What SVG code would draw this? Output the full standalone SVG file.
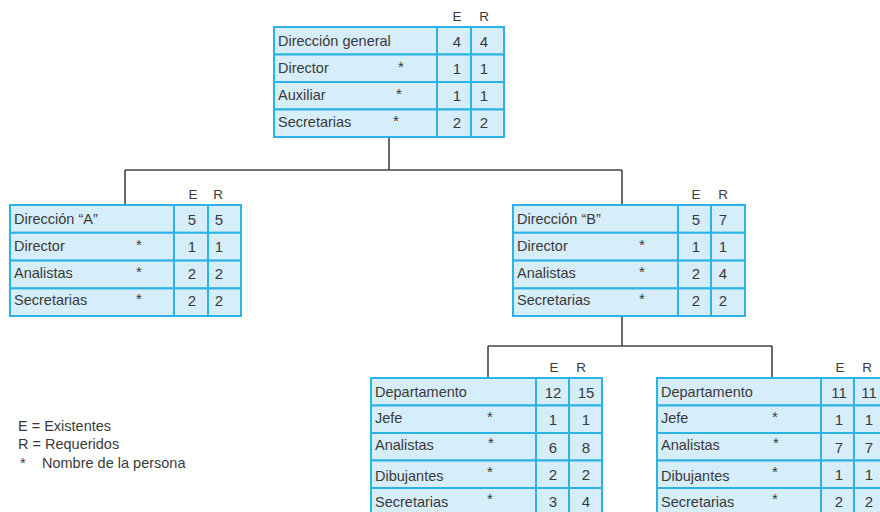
<svg xmlns="http://www.w3.org/2000/svg" width="880" height="512" viewBox="0 0 880 512">
  <style>
    .cell { fill: #d6edfa; stroke: #2ab3e4; stroke-width: 2; }
    .t { font-family: "Liberation Sans", Arial, sans-serif; font-size: 14.5px; fill: #3a3a3a; }
    .n { text-anchor: middle; font-size: 15px; }
    .h { font-family: "Liberation Sans", Arial, sans-serif; font-size: 13.5px; fill: #3a3a3a; text-anchor: middle; }
    .link { fill: none; stroke: #444; stroke-width: 1.6; }
  </style>
  <rect width="880" height="512" fill="#fff"/>

  <!-- connectors -->
  <g id="connectors">
    <path class="link" d="M389 137 V170 M125 170 H622 M125 170 V205 M622 170 V205"/>
    <path class="link" d="M622 316 V346 M488 346 H772 M488 346 V378 M772 346 V378"/>
  </g>

  <!-- Dirección general -->
  <g id="direccion-general">
    <text class="h" x="457" y="21">E</text>
    <text class="h" x="484" y="21">R</text>
    <rect class="cell" x="274" y="27" width="163" height="27.5"/>
    <rect class="cell" x="437" y="27" width="34" height="27.5"/>
    <rect class="cell" x="471" y="27" width="33" height="27.5"/>
    <rect class="cell" x="274" y="54.5" width="163" height="27.5"/>
    <rect class="cell" x="437" y="54.5" width="34" height="27.5"/>
    <rect class="cell" x="471" y="54.5" width="33" height="27.5"/>
    <rect class="cell" x="274" y="82" width="163" height="27.5"/>
    <rect class="cell" x="437" y="82" width="34" height="27.5"/>
    <rect class="cell" x="471" y="82" width="33" height="27.5"/>
    <rect class="cell" x="274" y="109.5" width="163" height="27.5"/>
    <rect class="cell" x="437" y="109.5" width="34" height="27.5"/>
    <rect class="cell" x="471" y="109.5" width="33" height="27.5"/>
    <text class="t" x="278" y="46">Dirección general</text>
    <text class="t" x="278" y="73">Director</text>
    <text class="t" x="278" y="100">Auxiliar</text>
    <text class="t" x="278" y="127">Secretarias</text>
    <text class="t n" x="401" y="72">*</text>
    <text class="t n" x="399" y="99">*</text>
    <text class="t n" x="396" y="126">*</text>
    <text class="t n" x="457" y="47">4</text><text class="t n" x="484" y="47">4</text>
    <text class="t n" x="457" y="74">1</text><text class="t n" x="484" y="74">1</text>
    <text class="t n" x="457" y="101">1</text><text class="t n" x="484" y="101">1</text>
    <text class="t n" x="457" y="128">2</text><text class="t n" x="484" y="128">2</text>
  </g>

  <!-- Dirección A -->
  <g id="direccion-a">
    <text class="h" x="193" y="199">E</text>
    <text class="h" x="218" y="199">R</text>
    <rect class="cell" x="10" y="205" width="164" height="27.8"/>
    <rect class="cell" x="174" y="205" width="34" height="27.8"/>
    <rect class="cell" x="208" y="205" width="33" height="27.8"/>
    <rect class="cell" x="10" y="232.8" width="164" height="27.8"/>
    <rect class="cell" x="174" y="232.8" width="34" height="27.8"/>
    <rect class="cell" x="208" y="232.8" width="33" height="27.8"/>
    <rect class="cell" x="10" y="260.6" width="164" height="27.8"/>
    <rect class="cell" x="174" y="260.6" width="34" height="27.8"/>
    <rect class="cell" x="208" y="260.6" width="33" height="27.8"/>
    <rect class="cell" x="10" y="288.4" width="164" height="27.6"/>
    <rect class="cell" x="174" y="288.4" width="34" height="27.6"/>
    <rect class="cell" x="208" y="288.4" width="33" height="27.6"/>
    <text class="t" x="14" y="224">Dirección “A”</text>
    <text class="t" x="14" y="251">Director</text>
    <text class="t" x="14" y="278">Analistas</text>
    <text class="t" x="14" y="305">Secretarias</text>
    <text class="t n" x="139" y="250">*</text>
    <text class="t n" x="139" y="277">*</text>
    <text class="t n" x="139" y="304">*</text>
    <text class="t n" x="192" y="225">5</text><text class="t n" x="219" y="225">5</text>
    <text class="t n" x="192" y="252">1</text><text class="t n" x="219" y="252">1</text>
    <text class="t n" x="192" y="279">2</text><text class="t n" x="219" y="279">2</text>
    <text class="t n" x="192" y="306">2</text><text class="t n" x="219" y="306">2</text>
  </g>

  <!-- Dirección B -->
  <g id="direccion-b">
    <text class="h" x="696" y="199">E</text>
    <text class="h" x="723" y="199">R</text>
    <rect class="cell" x="513" y="205" width="165" height="27.8"/>
    <rect class="cell" x="678" y="205" width="33" height="27.8"/>
    <rect class="cell" x="711" y="205" width="34" height="27.8"/>
    <rect class="cell" x="513" y="232.8" width="165" height="27.8"/>
    <rect class="cell" x="678" y="232.8" width="33" height="27.8"/>
    <rect class="cell" x="711" y="232.8" width="34" height="27.8"/>
    <rect class="cell" x="513" y="260.6" width="165" height="27.8"/>
    <rect class="cell" x="678" y="260.6" width="33" height="27.8"/>
    <rect class="cell" x="711" y="260.6" width="34" height="27.8"/>
    <rect class="cell" x="513" y="288.4" width="165" height="27.6"/>
    <rect class="cell" x="678" y="288.4" width="33" height="27.6"/>
    <rect class="cell" x="711" y="288.4" width="34" height="27.6"/>
    <text class="t" x="517" y="224">Dirección “B”</text>
    <text class="t" x="517" y="251">Director</text>
    <text class="t" x="517" y="278">Analistas</text>
    <text class="t" x="517" y="305">Secretarias</text>
    <text class="t n" x="642" y="250">*</text>
    <text class="t n" x="642" y="277">*</text>
    <text class="t n" x="642" y="304">*</text>
    <text class="t n" x="696" y="225">5</text><text class="t n" x="723" y="225">7</text>
    <text class="t n" x="696" y="252">1</text><text class="t n" x="723" y="252">1</text>
    <text class="t n" x="696" y="279">2</text><text class="t n" x="723" y="279">4</text>
    <text class="t n" x="696" y="306">2</text><text class="t n" x="723" y="306">2</text>
  </g>

  <!-- Departamento 1 -->
  <g id="departamento-1">
    <text class="h" x="554" y="372">E</text>
    <text class="h" x="581" y="372">R</text>
    <rect class="cell" x="371" y="378" width="165" height="27.5"/>
    <rect class="cell" x="536" y="378" width="33" height="27.5"/>
    <rect class="cell" x="569" y="378" width="33" height="27.5"/>
    <rect class="cell" x="371" y="405.5" width="165" height="27.5"/>
    <rect class="cell" x="536" y="405.5" width="33" height="27.5"/>
    <rect class="cell" x="569" y="405.5" width="33" height="27.5"/>
    <rect class="cell" x="371" y="433" width="165" height="27.5"/>
    <rect class="cell" x="536" y="433" width="33" height="27.5"/>
    <rect class="cell" x="569" y="433" width="33" height="27.5"/>
    <rect class="cell" x="371" y="460.5" width="165" height="27.5"/>
    <rect class="cell" x="536" y="460.5" width="33" height="27.5"/>
    <rect class="cell" x="569" y="460.5" width="33" height="27.5"/>
    <rect class="cell" x="371" y="488" width="165" height="28"/>
    <rect class="cell" x="536" y="488" width="33" height="28"/>
    <rect class="cell" x="569" y="488" width="33" height="28"/>
    <text class="t" x="375" y="397">Departamento</text>
    <text class="t" x="375" y="423">Jefe</text>
    <text class="t" x="375" y="450">Analistas</text>
    <text class="t" x="375" y="481">Dibujantes</text>
    <text class="t" x="375" y="507">Secretarias</text>
    <text class="t n" x="490" y="422">*</text>
    <text class="t n" x="491" y="448">*</text>
    <text class="t n" x="490" y="477">*</text>
    <text class="t n" x="490" y="504">*</text>
    <text class="t n" x="553" y="398">12</text><text class="t n" x="586" y="398">15</text>
    <text class="t n" x="553" y="425">1</text><text class="t n" x="586" y="425">1</text>
    <text class="t n" x="553" y="453">6</text><text class="t n" x="586" y="453">8</text>
    <text class="t n" x="553" y="480">2</text><text class="t n" x="586" y="480">2</text>
    <text class="t n" x="553" y="507">3</text><text class="t n" x="586" y="507">4</text>
  </g>

  <!-- Departamento 2 -->
  <g id="departamento-2">
    <text class="h" x="840" y="372">E</text>
    <text class="h" x="867" y="372">R</text>
    <rect class="cell" x="657" y="378" width="164" height="27.5"/>
    <rect class="cell" x="821" y="378" width="33" height="27.5"/>
    <rect class="cell" x="854" y="378" width="33" height="27.5"/>
    <rect class="cell" x="657" y="405.5" width="164" height="27.5"/>
    <rect class="cell" x="821" y="405.5" width="33" height="27.5"/>
    <rect class="cell" x="854" y="405.5" width="33" height="27.5"/>
    <rect class="cell" x="657" y="433" width="164" height="27.5"/>
    <rect class="cell" x="821" y="433" width="33" height="27.5"/>
    <rect class="cell" x="854" y="433" width="33" height="27.5"/>
    <rect class="cell" x="657" y="460.5" width="164" height="27.5"/>
    <rect class="cell" x="821" y="460.5" width="33" height="27.5"/>
    <rect class="cell" x="854" y="460.5" width="33" height="27.5"/>
    <rect class="cell" x="657" y="488" width="164" height="28"/>
    <rect class="cell" x="821" y="488" width="33" height="28"/>
    <rect class="cell" x="854" y="488" width="33" height="28"/>
    <text class="t" x="661" y="397">Departamento</text>
    <text class="t" x="661" y="423">Jefe</text>
    <text class="t" x="661" y="450">Analistas</text>
    <text class="t" x="661" y="481">Dibujantes</text>
    <text class="t" x="661" y="507">Secretarias</text>
    <text class="t n" x="775" y="422">*</text>
    <text class="t n" x="776" y="448">*</text>
    <text class="t n" x="775" y="477">*</text>
    <text class="t n" x="775" y="504">*</text>
    <text class="t n" x="839" y="398">11</text><text class="t n" x="869" y="398">11</text>
    <text class="t n" x="839" y="425">1</text><text class="t n" x="869" y="425">1</text>
    <text class="t n" x="839" y="453">7</text><text class="t n" x="869" y="453">7</text>
    <text class="t n" x="839" y="480">1</text><text class="t n" x="869" y="480">1</text>
    <text class="t n" x="839" y="507">2</text><text class="t n" x="869" y="507">2</text>
  </g>

  <!-- legend -->
  <g id="legend">
    <text class="t" x="18" y="431">E = Existentes</text>
    <text class="t" x="18" y="449">R = Requeridos</text>
    <text class="t" x="20" y="468">*</text>
    <text class="t" x="42" y="468">Nombre de la persona</text>
  </g>
</svg>
